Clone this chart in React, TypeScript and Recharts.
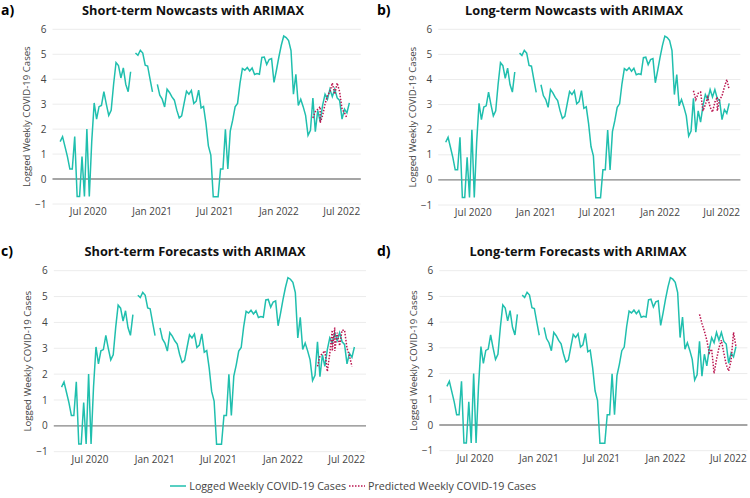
import React from "react";
import { LineChart, Line, XAxis, YAxis, CartesianGrid, ReferenceLine, Label } from "recharts";

// weekly series, first week = 2020-04-11
const START = Date.UTC(2020, 3, 11);
const WEEK_MS = 7 * 24 * 60 * 60 * 1000;

const observedValues: (number | null)[] = [
  1.5, 1.7, 1.3, 0.9, 0.4, 0.4, 1.7, -0.7, -0.7, 0.9,
  -0.7, 2.0, -0.7, 1.5, 3.05, 2.4, 2.9, 2.95, 3.5, 3.0,
  2.55, 2.75, 3.8, 4.67, 4.55, 4.05, 4.45, 3.8, 3.5, 4.3,
  null, 5.05, 4.96, 5.16, 5.05, 4.56, 4.53, 4.0, 3.49, null,
  3.79, 3.36, 3.2, 2.89, 3.6, 3.47, 3.29, 3.16, 2.76, 2.45,
  2.53, 3.03, 3.52, 3.4, 3.55, 3.03, 3.12, 3.56, 2.85, 2.91,
  2.23, 1.33, 0.96, -0.71, -0.71, -0.71, 0.4, 0.4, 1.99, 0.4,
  1.92, 2.36, 2.89, 3.03, 3.83, 4.43, 4.36, 4.47, 4.33, 4.45,
  4.19, 4.23, 4.2, 4.87, 4.89, 4.59, 4.79, 4.83, 3.87, 4.36,
  4.89, 5.36, 5.73, 5.67, 5.55, 5.15, 3.4, 4.2, 2.95, 3.2,
  2.9, 2.55, 1.75, 1.95, 3.25, 1.9, 2.75, 2.3, 2.95, 3.4,
  3.2, 3.6, 3.3, 3.6, 3.25, 3.15, 2.4, 2.8, 2.65, 3.05,
];

const shortNowcastWeeks = [104, 105, 106, 107, 107, 108, 109, 110, 111, 112, 113, 114, 115, 116, 117, 118];
const shortNowcastValues = [2.45, 2.7, 2.8, 2.9, 2.25, 2.55, 3.0, 3.35, 3.5, 3.85, 3.4, 3.85, 3.5, 2.8, 2.65, 2.45];

const longNowcastWeeks = [104, 105, 106, 107, 108, 109, 110, 111, 112, 113, 114, 114, 115, 116, 117, 118, 119];
const longNowcastValues = [3.55, 3.2, 3.45, 3.5, 2.75, 3.0, 3.3, 2.9, 2.7, 3.1, 3.3, 2.75, 3.2, 3.35, 3.7, 4.0, 3.6];

const shortForecastWeeks = [104, 105, 106, 107, 108, 109, 110, 110, 111, 111, 112, 113, 114, 115, 116, 117, 118];
const shortForecastValues = [2.3, 2.7, 2.8, 2.9, 2.1, 2.8, 3.7, 2.9, 3.8, 2.9, 3.6, 3.1, 3.7, 3.7, 3.0, 2.7, 2.3];

const longForecastWeeks = [104, 105, 106, 107, 108, 109, 110, 111, 112, 113, 114, 115, 116, 117, 118, 119];
const longForecastValues = [4.3, 3.95, 3.65, 3.3, 2.8, 2.95, 2.0, 2.55, 3.0, 3.3, 2.8, 2.35, 2.1, 2.5, 3.6, 3.05];

const xTickDates = [
  Date.UTC(2020, 6, 1),
  Date.UTC(2021, 0, 1),
  Date.UTC(2021, 6, 1),
  Date.UTC(2022, 0, 1),
  Date.UTC(2022, 6, 1),
];
const xTickLabels = ["Jul 2020", "Jan 2021", "Jul 2021", "Jan 2022", "Jul 2022"];
const yTicks = [-1, 0, 1, 2, 3, 4, 5, 6];

const X_DOMAIN = [Date.UTC(2020, 2, 20), Date.UTC(2022, 7, 25)];
const OBS_COLOR = "#20bfae";
const PRED_COLOR = "#bb1650";
const FONT = '"Open Sans", sans-serif';

const observedData = observedValues.map((v, i) => ({ date: START + i * WEEK_MS, value: v }));
const toSeries = (weeks: number[], values: number[]) =>
  weeks.map((w, i) => ({ date: START + w * WEEK_MS, value: values[i] }));

const panels = [
  {
    tag: "a)", title: "Short-term Nowcasts with ARIMAX",
    left: 0, top: 0, plotLeft: 52.5, plotRight: 360.8, plotTop: 29.3, plotBottom: 204,
    titleX: 193, titleY: 10.5, tagX: 1, tagY: 0.2,
    pred: toSeries(shortNowcastWeeks, shortNowcastValues),
  },
  {
    tag: "b)", title: "Long-term Nowcasts with ARIMAX",
    left: 375, top: 0, plotLeft: 63.2, plotRight: 365.4, plotTop: 29.3, plotBottom: 205,
    titleX: 199, titleY: 10.5, tagX: 2, tagY: 0.2,
    pred: toSeries(longNowcastWeeks, longNowcastValues),
  },
  {
    tag: "c)", title: "Short-term Forecasts with ARIMAX",
    left: 0, top: 240, plotLeft: 53.8, plotRight: 366, plotTop: 30.7, plotBottom: 211.7,
    titleX: 195, titleY: 11, tagX: 1, tagY: 0.5,
    pred: toSeries(shortForecastWeeks, shortForecastValues),
  },
  {
    tag: "d)", title: "Long-term Forecasts with ARIMAX",
    left: 375, top: 240, plotLeft: 64.3, plotRight: 372.4, plotTop: 30.7, plotBottom: 210.7,
    titleX: 203, titleY: 11.5, tagX: 2, tagY: 0.5,
    pred: toSeries(longForecastWeeks, longForecastValues),
  },
];

const fmtX = (v: number) => {
  const i = xTickDates.indexOf(v);
  return i >= 0 ? xTickLabels[i] : "";
};
const fmtY = (v: number) => (v < 0 ? "\u2212" + Math.abs(v) : String(v));

function Panel({ p }: { p: (typeof panels)[number] }) {
  const W = 375;
  const H = 235;
  const xAxisH = 20;
  return (
    <>
      <div
        style={{
          position: "absolute", left: p.left + p.tagX, top: p.top + p.tagY,
          fontFamily: FONT, fontWeight: 700, fontSize: 14, lineHeight: "normal", color: "#000",
        }}
      >
        {p.tag}
      </div>
      <div
        style={{
          position: "absolute", left: p.left + p.titleX - 200, width: 400, top: p.top + p.titleY - 7.5,
          textAlign: "center", fontFamily: FONT, fontWeight: 700, fontSize: 12.8, lineHeight: "15px",
          color: "#111", whiteSpace: "nowrap",
        }}
      >
        {p.title}
      </div>
      <div style={{ position: "absolute", left: p.left, top: p.top }}>
        <LineChart
          width={W}
          height={H}
          margin={{ top: p.plotTop, right: W - p.plotRight, bottom: H - p.plotBottom - xAxisH, left: 0 }}
        >
          <CartesianGrid vertical={false} stroke="#ececec" strokeWidth={1} />
          <XAxis
            type="number"
            dataKey="date"
            domain={X_DOMAIN}
            ticks={xTickDates}
            tickFormatter={fmtX}
            axisLine={false}
            tickLine={false}
            tickSize={0}
            tickMargin={4}
            height={xAxisH}
            allowDataOverflow
            tick={{ fontSize: 10, fill: "#444", fontFamily: FONT }}
          />
          <YAxis
            type="number"
            domain={[-1, 6]}
            ticks={yTicks}
            tickFormatter={fmtY}
            axisLine={false}
            tickLine={false}
            tickSize={0}
            tickMargin={6}
            width={p.plotLeft}
            tick={{ fontSize: 10, fill: "#444", fontFamily: FONT }}
          >
            <Label
              value="Logged Weekly COVID-19 Cases"
              angle={-90}
              position="insideLeft"
              offset={p.plotLeft - 25.7}
              style={{ textAnchor: "middle", fontSize: 9.6, fill: "#444", fontFamily: FONT }}
            />
          </YAxis>
          <ReferenceLine y={0} stroke="#8a8a8a" strokeWidth={1.4} />
          <Line
            data={observedData}
            dataKey="value"
            type="linear"
            stroke={OBS_COLOR}
            strokeWidth={1.5}
            dot={false}
            connectNulls={false}
            isAnimationActive={false}
          />
          <Line
            data={p.pred}
            dataKey="value"
            type="linear"
            stroke={PRED_COLOR}
            strokeWidth={1.5}
            strokeDasharray="1.5 1.5"
            dot={false}
            isAnimationActive={false}
          />
        </LineChart>
      </div>
    </>
  );
}

function LegendSample({ dashed, color }: { dashed?: boolean; color: string }) {
  return (
    <svg width={16} height={6} style={{ display: "block" }}>
      <line x1={0} y1={3} x2={16} y2={3} stroke={color} strokeWidth={1.5} strokeDasharray={dashed ? "1.5 1.5" : undefined} />
    </svg>
  );
}

export default function App() {
  const legendText = { fontFamily: FONT, fontSize: 10.7, color: "#444", whiteSpace: "nowrap" as const };
  return (
    <div style={{ position: "absolute", left: 0, top: 0, width: 750, height: 498, background: "#fff", overflow: "hidden" }}>
      {panels.map((p) => (
        <Panel key={p.tag} p={p} />
      ))}
      <div
        style={{
          position: "absolute", right: 750 - 346, top: 478, height: 16,
          display: "flex", alignItems: "center", gap: 3,
        }}
      >
        <LegendSample color={OBS_COLOR} />
        <span style={legendText}>Logged Weekly COVID-19 Cases</span>
      </div>
      <div
        style={{
          position: "absolute", left: 349, top: 478, height: 16,
          display: "flex", alignItems: "center", gap: 3,
        }}
      >
        <LegendSample color={PRED_COLOR} dashed />
        <span style={legendText}>Predicted Weekly COVID-19 Cases</span>
      </div>
    </div>
  );
}
